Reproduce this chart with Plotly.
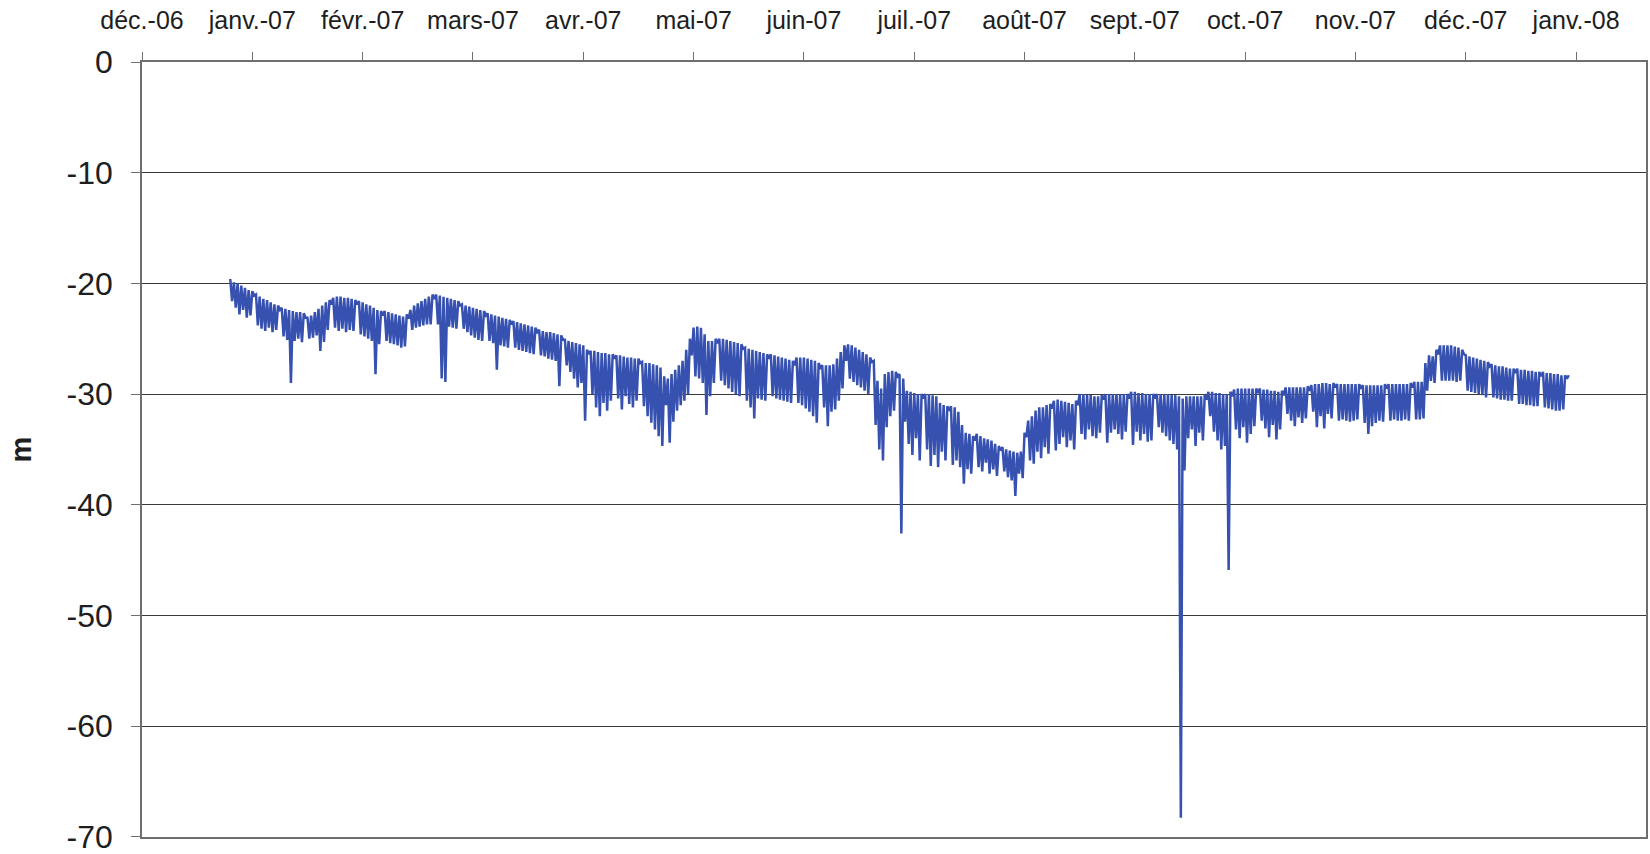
import datetime as dt
import plotly.graph_objects as go

# Daily water level in 2007 (m), one row per week, Monday to Sunday.
# resting: level reached overnight, before the pump starts
# pumping: lowest level reached while the pump runs
resting = [
    [-19.6, -19.9, -20.0, -20.2, -20.4, -20.6, -20.7],
    [-21.0, -21.2, -21.4, -21.5, -21.7, -21.9, -22.0],
    [-22.2, -22.3, -22.4, -22.5, -22.6, -22.6, -22.7],
    [-23.1, -22.9, -22.6, -22.3, -22.0, -21.7, -21.5],
    [-21.3, -21.2, -21.2, -21.3, -21.3, -21.4, -21.5],
    [-21.6, -21.7, -21.9, -22.0, -22.2, -22.4, -22.5],
    [-22.5, -22.6, -22.7, -22.8, -22.9, -23.0, -22.8],
    [-22.4, -22.0, -21.8, -21.6, -21.4, -21.2, -21.0],
    [-21.0, -21.1, -21.2, -21.3, -21.4, -21.5, -21.6],
    [-21.9, -22.0, -22.1, -22.2, -22.3, -22.4, -22.5],
    [-22.7, -22.8, -22.9, -23.0, -23.1, -23.2, -23.3],
    [-23.4, -23.5, -23.6, -23.7, -23.8, -23.9, -24.0],
    [-24.2, -24.3, -24.4, -24.4, -24.5, -24.6, -24.7],
    [-25.1, -25.2, -25.3, -25.4, -25.5, -25.6, -26.0],
    [-26.1, -26.1, -26.2, -26.3, -26.3, -26.4, -26.4],
    [-26.5, -26.5, -26.6, -26.7, -26.7, -26.8, -26.8],
    [-27.1, -27.2, -27.2, -27.3, -27.4, -27.6, -28.4],
    [-28.6, -28.2, -27.8, -27.4, -27.0, -26.0, -25.0],
    [-24.0, -23.9, -24.0, -24.6, -25.2, -25.2, -25.0],
    [-25.0, -25.0, -25.1, -25.2, -25.3, -25.4, -25.5],
    [-25.8, -25.9, -26.0, -26.1, -26.2, -26.3, -26.4],
    [-26.4, -26.5, -26.6, -26.7, -26.8, -26.9, -27.0],
    [-26.7, -26.7, -26.7, -26.8, -26.9, -27.0, -27.2],
    [-27.4, -27.4, -27.4, -27.3, -26.8, -26.2, -25.6],
    [-25.5, -25.6, -25.8, -26.0, -26.2, -26.4, -26.7],
    [-27.0, -28.8, -29.5, -28.2, -28.0, -27.9, -28.0],
    [-28.2, -28.6, -29.7, -29.8, -29.9, -30.0, -30.0],
    [-30.0, -30.0, -30.1, -30.2, -30.8, -31.0, -31.1],
    [-31.1, -31.2, -31.6, -32.8, -33.5, -33.6, -33.8],
    [-33.6, -33.8, -34.0, -34.1, -34.2, -34.5, -34.7],
    [-34.8, -35.0, -35.1, -35.2, -35.3, -35.2, -33.5],
    [-32.4, -32.0, -31.5, -31.2, -31.2, -31.0, -30.9],
    [-30.6, -30.5, -30.6, -30.7, -30.8, -30.9, -30.6],
    [-30.0, -30.0, -30.1, -30.1, -30.2, -30.2, -30.1],
    [-30.0, -30.0, -30.0, -30.0, -30.0, -30.0, -30.0],
    [-29.8, -29.8, -29.9, -29.9, -30.0, -30.0, -30.0],
    [-30.0, -30.0, -30.0, -30.0, -30.1, -30.1, -30.2],
    [-30.4, -30.2, -30.2, -30.2, -30.2, -30.2, -30.1],
    [-29.8, -29.8, -29.9, -29.9, -30.0, -30.0, -29.8],
    [-29.6, -29.5, -29.5, -29.5, -29.5, -29.5, -29.5],
    [-29.5, -29.6, -29.6, -29.7, -29.7, -29.8, -29.7],
    [-29.4, -29.4, -29.4, -29.4, -29.4, -29.4, -29.3],
    [-29.2, -29.1, -29.1, -29.0, -29.0, -29.1, -29.0],
    [-29.1, -29.1, -29.1, -29.1, -29.1, -29.1, -29.1],
    [-29.2, -29.2, -29.2, -29.2, -29.2, -29.2, -29.1],
    [-29.1, -29.1, -29.1, -29.1, -29.1, -29.1, -29.0],
    [-28.9, -28.9, -28.9, -27.2, -26.5, -26.6, -26.0],
    [-25.6, -25.6, -25.6, -25.6, -25.7, -25.8, -26.0],
    [-26.5, -26.6, -26.7, -26.8, -26.9, -27.0, -27.1],
    [-27.3, -27.4, -27.5, -27.5, -27.6, -27.7, -27.7],
    [-27.7, -27.8, -27.8, -27.9, -27.9, -28.0, -28.0],
    [-28.0, -28.1, -28.1, -28.2, -28.2, -28.3, -28.3],
]
pumping = [
    [-21.6, -22.2, -22.8, -22.4, -23.1, -22.9, -21.1],
    [-23.8, -24.1, -24.3, -24.0, -24.4, -24.2, -22.4],
    [-24.8, -25.1, -29.0, -25.2, -25.0, -25.3, -23.1],
    [-25.0, -24.9, -24.7, -26.1, -25.3, -24.2, -21.9],
    [-24.0, -24.3, -24.1, -24.4, -24.2, -24.3, -21.9],
    [-24.6, -24.8, -25.0, -25.2, -28.2, -25.5, -22.9],
    [-25.2, -25.4, -25.5, -25.6, -25.8, -25.7, -23.2],
    [-24.2, -24.0, -23.9, -23.8, -23.7, -23.7, -21.4],
    [-23.7, -28.6, -28.9, -23.9, -24.0, -24.1, -22.0],
    [-24.1, -24.4, -24.7, -24.9, -25.1, -25.2, -22.9],
    [-25.2, -25.4, -27.8, -25.6, -25.7, -25.8, -23.7],
    [-25.8, -26.0, -26.1, -26.2, -26.3, -26.4, -24.4],
    [-26.5, -26.6, -26.8, -26.9, -27.0, -29.3, -25.1],
    [-27.4, -28.0, -28.6, -29.4, -29.0, -32.4, -26.4],
    [-30.0, -31.2, -32.0, -30.8, -31.5, -30.6, -26.8],
    [-30.4, -31.4, -30.2, -30.9, -31.2, -30.6, -27.2],
    [-31.1, -32.0, -32.6, -33.2, -33.8, -34.7, -31.0],
    [-34.4, -32.5, -31.5, -31.0, -30.6, -30.0, -26.5],
    [-28.4, -28.6, -29.0, -31.9, -30.2, -29.0, -25.4],
    [-28.8, -29.2, -29.5, -29.8, -30.0, -30.2, -25.9],
    [-30.6, -31.2, -32.2, -30.4, -30.5, -30.6, -26.8],
    [-30.2, -30.4, -30.5, -30.6, -30.7, -30.8, -27.4],
    [-30.8, -31.0, -31.3, -31.6, -32.0, -32.6, -27.6],
    [-31.2, -32.9, -31.6, -31.4, -30.6, -29.5, -27.0],
    [-28.6, -28.9, -29.2, -29.4, -29.7, -30.0, -27.1],
    [-32.8, -35.0, -36.0, -33.0, -32.0, -31.5, -28.4],
    [-42.6, -32.5, -34.5, -35.5, -34.0, -36.0, -30.4],
    [-35.0, -36.5, -35.5, -36.6, -35.2, -36.0, -31.5],
    [-36.4, -36.0, -36.6, -38.1, -36.8, -37.2, -34.2],
    [-36.6, -37.0, -36.2, -37.2, -36.8, -37.4, -35.1],
    [-37.0, -37.5, -37.8, -39.2, -37.2, -37.6, -33.9],
    [-36.0, -36.3, -35.2, -35.8, -34.8, -35.4, -31.3],
    [-35.1, -34.5, -33.9, -34.8, -34.2, -35.0, -31.0],
    [-33.6, -34.1, -33.2, -33.8, -34.0, -33.5, -30.5],
    [-34.4, -33.5, -33.2, -33.6, -34.1, -33.4, -30.4],
    [-34.6, -33.4, -34.2, -33.6, -34.3, -34.2, -30.4],
    [-33.0, -33.5, -33.8, -34.2, -34.5, -35.0, -68.3],
    [-36.9, -34.0, -33.2, -34.7, -33.5, -34.2, -30.5],
    [-32.0, -33.4, -34.2, -35.0, -34.7, -45.9, -30.2],
    [-33.2, -34.0, -33.0, -34.4, -33.6, -32.9, -29.9],
    [-32.4, -33.1, -33.9, -32.8, -34.1, -33.2, -30.1],
    [-31.8, -32.4, -32.9, -32.1, -32.6, -32.2, -29.7],
    [-31.6, -33.0, -32.0, -33.1, -31.8, -32.2, -29.4],
    [-32.4, -32.3, -32.4, -32.5, -32.4, -32.3, -29.5],
    [-32.6, -33.6, -32.9, -32.6, -32.4, -32.5, -29.5],
    [-32.4, -32.3, -32.4, -32.4, -32.3, -32.4, -29.4],
    [-32.3, -32.3, -32.2, -29.7, -28.8, -29.0, -26.4],
    [-28.8, -28.8, -28.8, -28.8, -28.9, -28.8, -26.4],
    [-29.7, -29.8, -29.9, -30.0, -30.1, -30.3, -27.5],
    [-30.3, -30.4, -30.5, -30.5, -30.6, -30.6, -28.1],
    [-30.9, -30.9, -31.0, -31.0, -31.1, -31.1, -28.4],
    [-31.2, -31.3, -31.4, -31.5, -31.5, -31.4, -28.6],
]
closing_level = -28.3  # reading at midnight, 31 Dec 2007

first_day = dt.datetime(2007, 1, 1)

# Axis ticks: one every 30 days from 8 Dec 2006, labelled with the month
axis_start = dt.datetime(2006, 12, 8)
axis_days = 409
tick_labels = ["déc.-06", "janv.-07", "févr.-07", "mars-07", "avr.-07", "mai-07",
               "juin-07", "juil.-07", "août-07", "sept.-07", "oct.-07", "nov.-07",
               "déc.-07", "janv.-08"]
tick_step_days = 30
y_ticks = [0, -10, -20, -30, -40, -50, -60, -70]

# Build the time series: resting level at midnight, pumping minimum at noon
times, levels = [], []
day_index = 0
for week_rest, week_pump in zip(resting, pumping):
    for rest, pump in zip(week_rest, week_pump):
        day = first_day + dt.timedelta(days=day_index)
        times += [day, day + dt.timedelta(hours=12)]
        levels += [rest, pump]
        day_index += 1
times.append(first_day + dt.timedelta(days=day_index))
levels.append(closing_level)

font_family = "Liberation Sans, Arial, sans-serif"
text_color = "#1e1e1e"
frame_color = "#6e6e6e"

fig = go.Figure()
fig.add_trace(go.Scatter(
    x=times, y=levels, mode="lines",
    line=dict(color="#3651b0", width=2.5),
    hoverinfo="x+y", showlegend=False,
))

fig.update_layout(
    width=1650, height=854,
    margin=dict(l=142, r=4, t=62, b=17, autoexpand=False),
    paper_bgcolor="white", plot_bgcolor="white",
    font=dict(family=font_family, color=text_color),
    annotations=[dict(
        text="<b>m</b>", xref="paper", yref="paper", x=-0.0805, y=0.5,
        xanchor="center", yanchor="middle", textangle=-90, showarrow=False,
        font=dict(size=29, family=font_family, color=text_color),
    )],
)

fig.update_xaxes(
    type="date", side="top", automargin=False,
    range=[axis_start, axis_start + dt.timedelta(days=axis_days)],
    tickvals=[axis_start + dt.timedelta(days=tick_step_days * k) for k in range(len(tick_labels))],
    ticktext=tick_labels,
    tickfont=dict(size=25, family=font_family, color=text_color),
    ticks="outside", ticklen=8, tickwidth=1, tickcolor=frame_color,
    ticklabelstandoff=13, ticklabeloverflow="allow",
    showgrid=False, zeroline=False,
    showline=True, linecolor=frame_color, linewidth=1.5, mirror=True,
)

fig.update_yaxes(
    range=[-70.03, 0.01], automargin=False,
    tickvals=y_ticks,
    ticktext=[str(v) for v in y_ticks],
    tickfont=dict(size=32, family=font_family, color=text_color),
    ticks="outside", ticklen=9, tickwidth=1, tickcolor=frame_color,
    ticklabelstandoff=12, ticklabeloverflow="allow",
    showgrid=True, gridcolor="#3a3a3a", gridwidth=1,
    zeroline=False,
    showline=True, linecolor=frame_color, linewidth=1.5, mirror=True,
)

fig.write_html("out.html")
